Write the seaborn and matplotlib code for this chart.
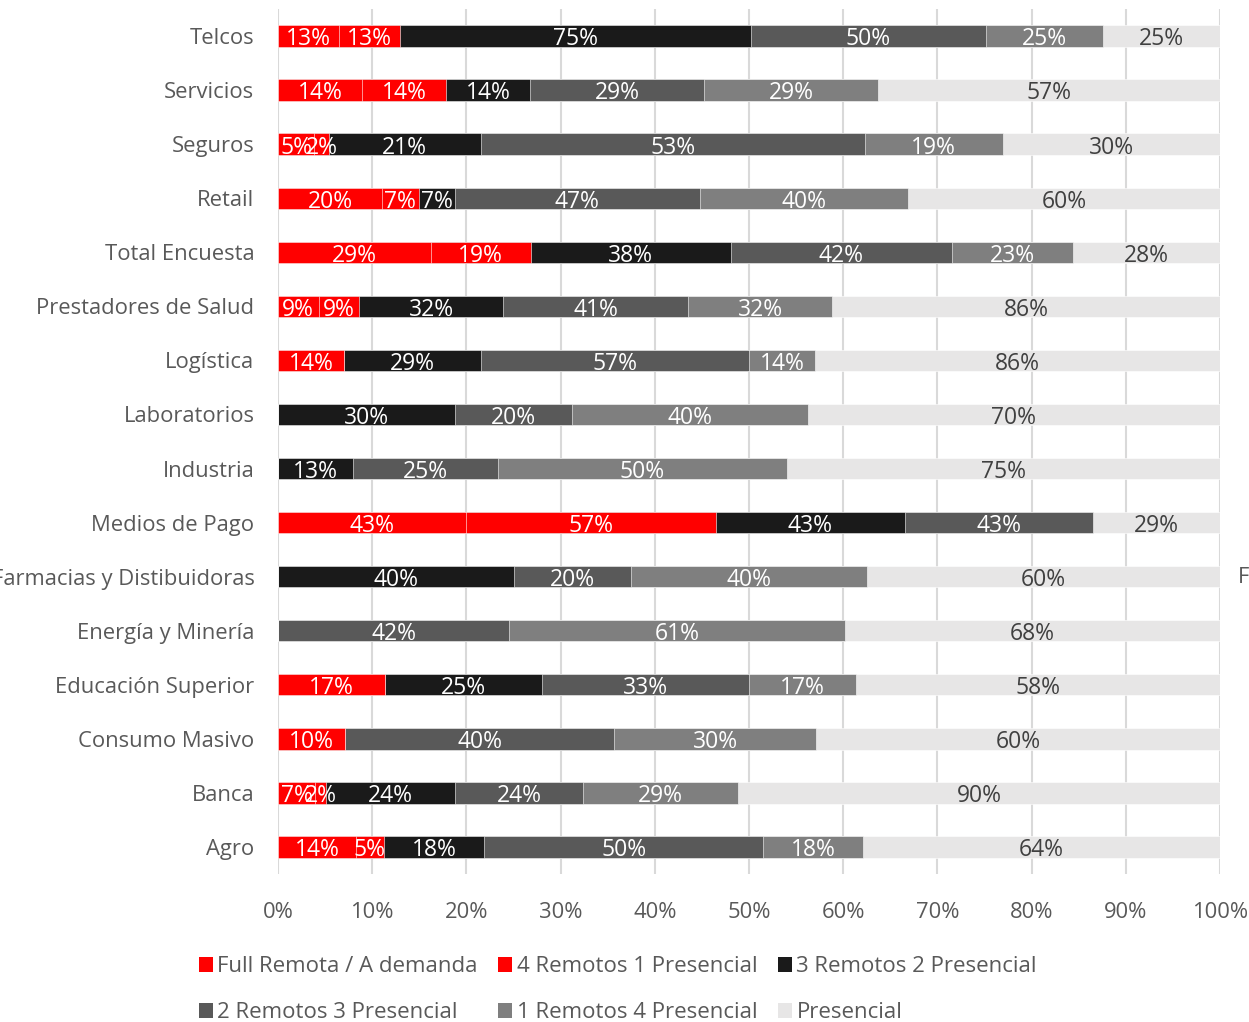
import numpy as np
import pandas as pd
import seaborn as sns
import matplotlib.pyplot as plt
from matplotlib.patches import Patch
from matplotlib.ticker import PercentFormatter

sectores = ['Telcos', 'Servicios', 'Seguros', 'Retail', 'Total Encuesta',
            'Prestadores de Salud', 'Logística', 'Laboratorios', 'Industria',
            'Medios de Pago', 'Farmacias y Distibuidoras', 'Energía y Minería',
            'Educación Superior', 'Consumo Masivo', 'Banca', 'Agro']

series = ['Full Remota / A demanda', '4 Remotos 1 Presencial', '3 Remotos 2 Presencial',
          '2 Remotos 3 Presencial', '1 Remotos 4 Presencial', 'Presencial']

full_remota = [13, 14, 5, 20, 29, 9, 14, 0, 0, 43, 0, 0, 17, 10, 7, 14]
remotos_4 = [13, 14, 2, 7, 19, 9, 0, 0, 0, 57, 0, 0, 0, 0, 2, 5]
remotos_3 = [75, 14, 21, 7, 38, 32, 29, 30, 13, 43, 40, 0, 25, 0, 24, 18]
remotos_2 = [50, 29, 53, 47, 42, 41, 57, 20, 25, 43, 20, 42, 33, 40, 24, 50]
remotos_1 = [25, 29, 19, 40, 23, 32, 14, 40, 50, 0, 40, 61, 17, 30, 29, 18]
presencial = [25, 57, 30, 60, 28, 86, 86, 70, 75, 29, 60, 68, 58, 60, 90, 64]

colores = ['#FF0000', '#FF0000', '#1A1A1A', '#595959', '#7F7F7F', '#E7E6E6']
color_txt = ['white', 'white', 'white', 'white', 'white', '#404040']

valores = np.array([full_remota, remotos_4, remotos_3, remotos_2, remotos_1, presencial], dtype=float)
share = valores / valores.sum(axis=0) * 100
acum = share.cumsum(axis=0)

plt.rcParams['font.family'] = ['Open Sans', 'DejaVu Sans']
fig = plt.figure(figsize=(12.49, 10.22), dpi=100)
ax = fig.add_axes([0.2226, 0.145, 0.7542, 0.846])

# bars drawn from the longest cumulative sum down so each one covers the next
for i in range(len(series) - 1, -1, -1):
    df = pd.DataFrame({'sector': sectores, 'fin': acum[i]})
    sns.barplot(data=df, x='fin', y='sector', orient='h', color=colores[i],
                width=0.4, edgecolor='white', linewidth=0.4, ax=ax, saturation=1)

for i in range(len(series)):
    inicio = acum[i] - share[i]
    for j in range(len(sectores)):
        if valores[i, j] == 0:
            continue
        ax.text(inicio[j] + share[i, j] / 2, j + 0.06, f'{int(valores[i, j])}%',
                ha='center', va='center', color=color_txt[i], fontsize=16.5)

ax.set_xlim(0, 100)
ax.set_ylim(len(sectores) - 0.5, -0.5)
ax.set_xticks(np.arange(0, 101, 10))
ax.xaxis.set_major_formatter(PercentFormatter(decimals=0))
ax.grid(axis='x', color='#D9D9D9', linewidth=1.5)
ax.set_axisbelow(True)
for s in ax.spines.values():
    s.set_visible(False)
ax.tick_params(length=0, labelsize=15.8, labelcolor='#595959')
ax.tick_params(axis='y', pad=17)
ax.tick_params(axis='x', pad=20)
ax.set_xlabel('')
ax.set_ylabel('')

handles = [Patch(facecolor=c, label=s) for c, s in zip(colores, series)]
orden = [0, 3, 1, 4, 2, 5]
fig.legend([handles[k] for k in orden], [series[k] for k in orden],
           loc='lower left', bbox_to_anchor=(0.143, -0.021), ncol=3, frameon=False,
           fontsize=16, labelcolor='#595959', handlelength=0.65, handleheight=0.65,
           handletextpad=0.2, columnspacing=0.9, labelspacing=1.15)

fig.text(1238 / 1249, 1 - 577 / 1022, 'F', color='#595959', fontsize=15.8, va='center')

fig.savefig('out.png', dpi=100)
